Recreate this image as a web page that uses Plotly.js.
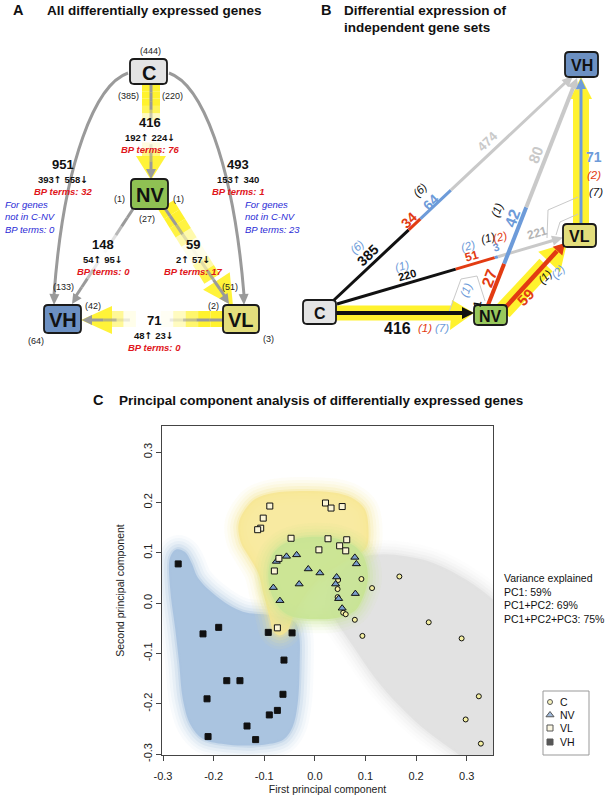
<!DOCTYPE html>
<html><head><meta charset="utf-8">
<script src="https://cdn.plot.ly/plotly-3.0.1.min.js"></script>
<style>body{margin:0;background:#fff}</style>
</head><body><div id="chart" style="width:605px;height:800px"></div>
<script>
// ================= DATA =================
// Panel A: all differentially expressed genes (edges between conditions)
const nodesA = ['C', 'NV', 'VL', 'VH'];
const edgesA = ['C-NV', 'C-VH', 'C-VL', 'NV-VH', 'NV-VL', 'VL-VH'];
const totalA = [416, 951, 493, 148, 59, 71];
const upA = [192, 393, 153, 54, 2, 48];
const downA = [224, 558, 340, 95, 57, 23];
const showDownArrowA = [true, true, false, true, true, true];
const bpTermsA = [76, 32, 1, 0, 17, 0];
const bpNotInCNV = [0, 23];               // C-VH, C-VL
const countLabelsA = ['(444)', '(385)', '(220)', '(1)', '(1)', '(27)', '(133)', '(42)', '(64)', '(51)', '(2)', '(3)'];

// Panel B: independent gene sets, segments of each edge
const segCNV = [416];
const segCVH = [385, 34, 64, 474];
const segCVL = [220, 51, 3, 221];
const segNVVH = [27, 42, 80];
const segNVVL = [59];
const segVLVH = [71];
const parenB = ['(1)', '(7)', '(6)', '(6)', '(1)', '(2)', '(1)', '(2)', '(1)', '(1)', '(2)', '(2)', '(7)', '(1)'];
const smallB = ['1'];

// Panel C: PCA scores
const pcC_x = [0.046, 0.045, 0.045, 0.092, 0.113, 0.167, 0.056, 0.061, 0.079, 0.094, 0.225, 0.290, 0.324, 0.298, 0.328];
const pcC_y = [0.046, 0.028, 0.012, 0.048, 0.030, 0.053, -0.019, -0.022, -0.033, -0.065, -0.038, -0.070, -0.185, -0.231, -0.279];
const pcNV_x = [-0.076, -0.056, -0.036, -0.013, 0.010, -0.031, -0.082, -0.069, 0.043, 0.041, 0.047, 0.054, 0.079, 0.082, 0.080];
const pcNV_y = [0.083, 0.093, 0.096, 0.068, 0.060, 0.038, 0.031, 0.005, 0.052, 0.038, 0.009, -0.010, 0.091, 0.078, 0.019];
const pcVL_x = [-0.089, -0.102, -0.107, -0.113, 0.021, 0.032, 0.054, -0.047, 0.026, 0.063, 0.049, 0.061, 0.008, -0.071, -0.080, -0.074];
const pcVL_y = [0.193, 0.169, 0.149, 0.146, 0.199, 0.189, 0.192, 0.129, 0.128, 0.126, 0.114, 0.104, 0.106, 0.089, 0.064, -0.049];
const pcVH_x = [-0.270, -0.221, -0.190, -0.092, -0.045, -0.061, -0.174, -0.148, -0.213, -0.063, -0.074, -0.090, -0.134, -0.211, -0.117];
const pcVH_y = [0.078, -0.061, -0.048, -0.058, -0.059, -0.113, -0.154, -0.154, -0.190, -0.181, -0.213, -0.222, -0.244, -0.265, -0.271];

// shaded group regions (outline vertices)
const blobC_x = [0.030, 0.045, 0.070, 0.100, 0.135, 0.180, 0.234, 0.300, 0.360, 0.400, 0.400, 0.330, 0.270, 0.210, 0.168, 0.120, 0.076, 0.045];
const blobC_y = [-0.010, 0.050, 0.080, 0.093, 0.097, 0.093, 0.080, 0.046, 0.000, -0.050, -0.330, -0.330, -0.290, -0.245, -0.205, -0.150, -0.086, -0.040];
const blobVH_x = [-0.286, -0.273, -0.257, -0.244, -0.230, -0.188, -0.142, -0.082, -0.040, -0.031, -0.030, -0.034, -0.044, -0.062, -0.100, -0.170, -0.221, -0.246, -0.261, -0.268, -0.276, -0.286];
const blobVH_y = [0.091, 0.107, 0.102, 0.081, 0.049, 0.009, -0.017, -0.024, -0.037, -0.064, -0.120, -0.200, -0.246, -0.271, -0.281, -0.281, -0.270, -0.241, -0.190, -0.120, -0.050, 0.030];
const blobVL_x = [-0.151, -0.141, -0.118, -0.082, -0.030, 0.036, 0.072, 0.098, 0.106, 0.101, 0.070, 0.000, -0.040, -0.055, -0.070, -0.082, -0.089, -0.102, -0.112, -0.132, -0.146];
const blobVL_y = [0.155, 0.181, 0.207, 0.219, 0.223, 0.220, 0.210, 0.188, 0.146, 0.109, 0.090, 0.040, -0.020, -0.056, -0.064, -0.056, -0.030, 0.020, 0.060, 0.095, 0.120];
const blobNV_x = [0.003, 0.045, 0.076, 0.095, 0.105, 0.096, 0.078, 0.045, 0.003, -0.040, -0.064, -0.084, -0.092, -0.084, -0.066, -0.035];
const blobNV_y = [0.132, 0.128, 0.115, 0.095, 0.053, 0.014, -0.016, -0.029, -0.032, -0.028, -0.016, 0.014, 0.053, 0.095, 0.115, 0.128];

const pcTicks = [-0.3, -0.2, -0.1, 0.0, 0.1, 0.2, 0.3];
const pcTickText = ['-0.3', '-0.2', '-0.1', '0.0', '0.1', '0.2', '0.3'];
const varianceLines = ['Variance explained', 'PC1: 59%', 'PC1+PC2: 69%', 'PC1+PC2+PC3: 75%'];
const groups = ['C', 'NV', 'VL', 'VH'];

// ================= DRAWING HELPERS =================
const FONT = 'Liberation Sans, Arial, sans-serif';
const shapes = [], annotations = [];
const XR = 'x2', YR = 'y2';
const f1 = v => (+v).toFixed(2);
function pathStr(pts) { return 'M' + pts.map(p => f1(p[0]) + ',' + f1(p[1])).join(' L') + ' Z'; }
function addPoly(pts, color, op) { shapes.push({type: 'path', xref: XR, yref: YR, path: pathStr(pts), fillcolor: color, line: {width: 0}, opacity: op == null ? 1 : op, layer: 'above'}); }
function addLine(x0, y0, x1, y1, color, w, op) { shapes.push({type: 'line', xref: XR, yref: YR, x0, y0, x1, y1, line: {color, width: w}, opacity: op == null ? 1 : op, layer: 'above'}); }
function addCurve(d, color, w) { shapes.push({type: 'path', xref: XR, yref: YR, path: d, fillcolor: 'rgba(0,0,0,0)', line: {color, width: w}, layer: 'above'}); }
function addHead(tx, ty, fx, fy, len, half, color, op) {
  const dx = tx - fx, dy = ty - fy, L = Math.hypot(dx, dy), ux = dx / L, uy = dy / L, nx = -uy, ny = ux;
  const bx = tx - ux * len, by = ty - uy * len;
  addPoly([[tx, ty], [bx + nx * half, by + ny * half], [bx - nx * half, by - ny * half]], color, op);
}
function gradLine(x0, y0, x1, y1, color, w, ops) {
  const n = ops.length;
  for (let i = 0; i < n; i++) {
    if (ops[i] <= 0) continue;
    const a = i / n, b = (i + 1) / n;
    addLine(x0 + (x1 - x0) * a, y0 + (y1 - y0) * a, x0 + (x1 - x0) * b, y0 + (y1 - y0) * b, color, w, ops[i]);
  }
}
function gradBand(x0, y0, x1, y1, half, color, ops) {
  const dx = x1 - x0, dy = y1 - y0, L = Math.hypot(dx, dy), nx = -dy / L * half, ny = dx / L * half, n = ops.length;
  for (let i = 0; i < n; i++) {
    if (ops[i] <= 0) continue;
    const a = i / n, b = (i + 1) / n;
    const ax = x0 + dx * a, ay = y0 + dy * a, bx = x0 + dx * b, by = y0 + dy * b;
    addPoly([[ax + nx, ay + ny], [bx + nx, by + ny], [bx - nx, by - ny], [ax - nx, ay - ny]], color, ops[i]);
  }
}
function segLine(x0, y0, x1, y1, breaks, colors, widths) {
  for (let i = 0; i < colors.length; i++) {
    const a = breaks[i], b = breaks[i + 1];
    addLine(x0 + (x1 - x0) * a, y0 + (y1 - y0) * a, x0 + (x1 - x0) * b, y0 + (y1 - y0) * b, colors[i], widths[i]);
  }
}
function addText(x, y, txt, size, color, opt) {
  opt = opt || {};
  annotations.push({xref: XR, yref: YR, x, y, text: txt, showarrow: false,
    font: {family: FONT, size, color}, textangle: opt.angle || 0,
    xanchor: opt.xanchor || 'center', yanchor: opt.yanchor || 'middle', align: opt.align || 'center'});
}
function rrect(x0, y0, x1, y1, r) {
  return `M${x0 + r},${y0} L${x1 - r},${y0} Q${x1},${y0} ${x1},${y0 + r} L${x1},${y1 - r} Q${x1},${y1} ${x1 - r},${y1} L${x0 + r},${y1} Q${x0},${y1} ${x0},${y1 - r} L${x0},${y0 + r} Q${x0},${y0} ${x0 + r},${y0} Z`;
}
function addNode(x0, y0, x1, y1, label, fill, size) {
  shapes.push({type: 'path', xref: XR, yref: YR, path: rrect(x0, y0, x1, y1, 4), fillcolor: fill, line: {color: '#1a1a1a', width: 1.8}, layer: 'above'});
  addText((x0 + x1) / 2, (y0 + y1) / 2 + 1, '<b>' + label + '</b>', size, '#111');
}
const UP = '<span style="font-family:DejaVu Sans">\u2191</span>';
const DOWN = '<span style="font-family:DejaVu Sans">\u2193</span>';

const GRAY = '#9a9a9a', YEL = '#fff22e', RED = '#e23b12', BLUE = '#6d9bd9', LGRAY = '#c9c9c9', BLK = '#111';
const RED_T = '#e0161b', BLUE_T = '#2a2ad6';
const nodeFill = {C: '#e4e4e4', NV: '#8fc153', VL: '#e3de7c', VH: '#6c90c2'};

// ================= PANEL A =================
addText(18, 10, '<b>A</b>', 14.5, '#111');
addText(45, 10, '<b>All differentially expressed genes</b>', 13.5, '#111', {xanchor: 'left'});

// yellow bands (behind)
gradBand(151, 84, 151, 157, 9, YEL, [1, 1, 1, 0.8, 0.3, 0, 0, 0, 0.15, 0.6]);
addPoly([[136, 156], [166, 156], [151, 180]], YEL, 0.95);
gradBand(166, 205, 212, 279, 9, YEL, [1, 1, 0.9, 0.4, 0.1, 0.1, 0.4, 0.9]);
addHead(233, 306, 166, 205, 30, 16, YEL, 0.95);
gradBand(223, 319, 111, 319, 8, YEL, [1, 1, 0.7, 0.3, 0.05, 0, 0, 0.1, 0.5]);
addPoly([[112, 306], [112, 334], [81, 320]], YEL, 0.95);

// gray arrows
addCurve('M128,73 C96,84 64,160 54,295', GRAY, 3);
addHead(54, 305, 54.5, 290, 11, 5, GRAY);
addCurve('M169,73 C201,84 233,160 244,295', GRAY, 3);
addHead(244, 305, 243.5, 290, 11, 5, GRAY);
gradLine(151, 84, 151, 170, GRAY, 3, [1, 1, 1, 0.5, 0.1, 0, 0, 0.2, 0.7, 1]);
addHead(151, 179, 151, 160, 10, 5, GRAY);
gradLine(133, 209, 76, 296, GRAY, 3, [1, 1, 0.7, 0.3, 0.05, 0, 0.2, 0.6, 1, 1]);
addHead(72, 304, 133, 209, 10, 5, GRAY);
gradLine(164, 207, 226, 298, GRAY, 3, [1, 1, 0.7, 0.3, 0.05, 0.05, 0.3, 0.8, 1, 1]);
addHead(229, 304, 164, 207, 10, 5, GRAY);
gradLine(223, 320, 90, 320, GRAY, 3, [1, 1, 0.6, 0.2, 0, 0, 0, 0.2, 0.7, 1]);
addHead(82, 320, 223, 320, 10, 5, GRAY);

// nodes
addNode(130, 59, 167, 84, nodesA[0], nodeFill.C, 20);
addNode(131, 179, 168, 209, nodesA[1], nodeFill.NV, 20);
addNode(223, 305, 259, 333, nodesA[2], nodeFill.VL, 20);
addNode(44, 305, 81, 333, nodesA[3], nodeFill.VH, 20);

// edge labels
const posA = {'C-NV': [150, 122], 'C-VH': [63, 164], 'C-VL': [238, 164], 'NV-VH': [103, 244], 'NV-VL': [193, 244], 'VL-VH': [154, 320]};
edgesA.forEach((e, i) => {
  const [x, y] = posA[e];
  addText(x, y, '<b>' + totalA[i] + '</b>', 13, '#111');
  addText(x, y + 15, '<b>' + upA[i] + UP + ' ' + downA[i] + (showDownArrowA[i] ? DOWN : '') + '</b>', 9.5, '#111');
  addText(x, y + 27, '<b><i>BP terms: ' + bpTermsA[i] + '</i></b>', 9.5, RED_T);
});
addText(3, 217, '<i>For genes<br>not in C-NV<br>BP terms: ' + bpNotInCNV[0] + '</i>', 9.5, BLUE_T, {xanchor: 'left', align: 'left'});
addText(243, 217, '<i>For genes<br>not in C-NV<br>BP terms: ' + bpNotInCNV[1] + '</i>', 9.5, BLUE_T, {xanchor: 'left', align: 'left'});
const cntPosA = [[150, 51], [128, 96], [172, 96], [119, 199], [178, 199], [147, 219], [63, 287], [93, 306], [36, 341], [230, 287], [213, 306], [268, 339]];
countLabelsA.forEach((t, i) => addText(cntPosA[i][0], cntPosA[i][1], t, 9, '#222'));

// ================= PANEL B =================
addText(326, 10, '<b>B</b>', 14.5, '#111');
addText(342, 10, '<b>Differential expression of</b>', 13.5, '#111', {xanchor: 'left'});
addText(342, 27, '<b>independent gene sets</b>', 13.5, '#111', {xanchor: 'left'});

// yellow bands
addPoly([[336, 305.5], [452, 305.5], [452, 320.5], [336, 320.5]], YEL, 1);
addPoly([[452, 300], [474, 313], [450, 330]], YEL, 1);
gradBand(503, 311, 546, 265, 9, YEL, [1]);
addHead(567, 243, 503, 311, 26, 15, YEL, 1);
addPoly([[573, 224], [589, 224], [589, 98], [573, 98]], YEL, 1);
addPoly([[570, 99], [592, 99], [581, 77]], YEL, 1);

// thin gray connectors
addCurve('M449,312 L461,279 L477,276 L485,301', LGRAY, 1);
addCurve('M547,238 L548,210 L578,197', LGRAY, 1);
addCurve('M556,235 L560,222 L578,214', LGRAY, 1);

// C -> VH
segLine(333, 301, 566, 82, [0, 0.325, 0.375, 0.506, 1], [BLK, RED, BLUE, LGRAY], [3, 3, 3, 3]);
addHead(573, 76, 333, 301, 11, 5, LGRAY);
// C -> VL
segLine(337, 304, 553, 240.5, [0, 0.55, 0.73, 0.745, 1], [BLK, RED, BLUE, LGRAY], [3, 3, 3, 3]);
addHead(563, 237.5, 337, 304, 11, 5, LGRAY);
// NV -> VH
segLine(488, 305, 573, 88, [0, 0.19, 0.45, 1], [RED, BLUE, LGRAY], [4, 4, 4]);
addHead(577, 78, 488, 305, 11, 6, LGRAY);
// NV -> VL
addLine(505, 308, 557, 251, RED, 4.5);
addHead(565, 243, 505, 308, 11, 6.5, RED);
// C -> NV
addLine(336, 313, 463, 313, BLK, 4);
addHead(474, 313, 336, 313, 12, 6, BLK);
// VL -> VH
addLine(581, 224, 581, 88, BLUE, 3);
addHead(581, 78, 581, 224, 11, 5, BLUE);

// nodes
addNode(303, 300, 336, 324, 'C', nodeFill.C, 16);
addNode(474, 305, 507, 325, 'NV', '#98c85c', 16);
addNode(563, 224, 596, 247, 'VL', nodeFill.VL, 16);
addNode(565, 52, 598, 77, 'VH', nodeFill.VH, 16);

// segment labels
const aCVH = -44, aCVL = -16, aNVVH = -69, aNVVL = -45;
addText(397, 328, '<b>' + segCNV[0] + '</b>', 16, '#111');
addText(368, 255, '<b>' + segCVH[0] + '</b>', 14, '#111', {angle: aCVH});
addText(409, 220, '<b>' + segCVH[1] + '</b>', 14, RED, {angle: aCVH});
addText(431, 202, '<b>' + segCVH[2] + '</b>', 14, BLUE, {angle: aCVH});
addText(487, 141, '<b>' + segCVH[3] + '</b>', 13, LGRAY, {angle: aCVH});
addText(407, 275, '<b>' + segCVL[0] + '</b>', 11, '#111', {angle: aCVL});
addText(472, 256, '<b>' + segCVL[1] + '</b>', 12, RED, {angle: aCVL});
addText(496, 247, '<b>' + segCVL[2] + '</b>', 11, BLUE, {angle: aCVL});
addText(537, 233, '<b>' + segCVL[3] + '</b>', 12, '#b5b5b5', {angle: aCVL});
addText(489, 278, '<b>' + segNVVH[0] + '</b>', 16, RED, {angle: aNVVH});
addText(512, 218, '<b>' + segNVVH[1] + '</b>', 16, BLUE, {angle: aNVVH});
addText(535, 155, '<b>' + segNVVH[2] + '</b>', 15, LGRAY, {angle: aNVVH});
addText(525, 297, '<b>' + segNVVL[0] + '</b>', 15, RED, {angle: aNVVL});
addText(594, 157, '<b>' + segVLVH[0] + '</b>', 14, BLUE);
// parenthetical labels
const parenPos = [[425, 328, RED, 0], [442, 328, BLUE, 0], [357, 247, BLUE, aCVH], [420, 190, '#111', aCVH],
  [402, 266, BLUE, aCVL], [468, 246, BLUE, aCVL], [488, 238, '#111', aCVL], [500, 237, RED, aCVL],
  [497, 210, '#111', aNVVH], [545, 277, '#111', aNVVL], [558, 272, BLUE, aNVVL],
  [594, 175, RED, 0], [596, 192, '#111', 0], [466, 290, BLUE, aNVVH]];
parenB.forEach((t, i) => { const p = parenPos[i]; addText(p[0], p[1], '<i>' + t + '</i>', 11.5, p[2], {angle: p[3]}); });
addText(477, 304, '<b>' + smallB[0] + '</b>', 11, '#111', {angle: -80});

// ================= PANEL C =================
addText(98, 400, '<b>C</b>', 14.5, '#111');
addText(117, 400, '<b>Principal component analysis of differentially expressed genes</b>', 13.5, '#111', {xanchor: 'left'});
addText(502, 598, varianceLines.join('<br>'), 10.5, '#111', {xanchor: 'left', align: 'left'});

// manual legend box (below the legend symbols)
shapes.push({type: 'rect', xref: XR, yref: YR, x0: 543, y0: 691, x1: 589, y1: 755, line: {color: '#999', width: 1}, fillcolor: '#fff', layer: 'below'});
const legY = [702, 715, 728, 742];
groups.forEach((g, i) => addText(558, legY[i], g, 10.5, '#111', {xanchor: 'left'}));

function blobTraces(xs, ys, rgb, alpha) {
  const cx = xs.concat([xs[0]]), cy = ys.concat([ys[0]]);
  const base = {x: cx, y: cy, mode: 'lines', hoverinfo: 'skip', showlegend: false};
  const halo = (w, a) => Object.assign({}, base, {line: {color: `rgba(${rgb},${a})`, width: w, shape: 'spline', smoothing: 1}});
  return [
    halo(28, 0.07), halo(22, 0.09), halo(16, 0.13), halo(10, 0.2),
    Object.assign({}, base, {fill: 'toself', fillcolor: `rgba(${rgb},${alpha})`, line: {color: `rgba(${rgb},0.35)`, width: 4, shape: 'spline', smoothing: 1}})
  ];
}
const traces = [].concat(
  blobTraces(blobC_x, blobC_y, '226,226,226', 1),
  blobTraces(blobVH_x, blobVH_y, '170,196,224', 1),
  blobTraces(blobVL_x, blobVL_y, '247,230,145', 0.85),
  blobTraces(blobNV_x, blobNV_y, '200,228,148', 0.92),
  [
    {x: pcC_x, y: pcC_y, name: 'C', mode: 'markers', marker: {symbol: 'circle', size: 5, color: '#f4efa2', line: {color: '#111', width: 1}}, showlegend: false},
    {x: pcNV_x, y: pcNV_y, name: 'NV', mode: 'markers', marker: {symbol: 'triangle-up', size: 7, color: '#7b9fcc', line: {color: '#111', width: 1}}, showlegend: false},
    {x: pcVL_x, y: pcVL_y, name: 'VL', mode: 'markers', marker: {symbol: 'square', size: 6, color: '#fbf5d6', line: {color: '#111', width: 1}}, showlegend: false},
    {x: pcVH_x, y: pcVH_y, name: 'VH', mode: 'markers', marker: {symbol: 'square', size: 6, color: '#111', line: {color: '#111', width: 1}}, showlegend: false},
    // legend symbols on the overlay layer
    {x: [550, 550, 550, 550], y: legY, xaxis: 'x2', yaxis: 'y2', mode: 'markers', hoverinfo: 'skip', showlegend: false,
     marker: {symbol: ['circle', 'triangle-up', 'square', 'square'], size: [5, 7, 6, 6], color: ['#f4efa2', '#7b9fcc', '#fbf5d6', '#111'], line: {color: '#111', width: 1}}}
  ]
);

const axFont = {family: FONT, size: 11, color: '#222'};
const layout = {
  width: 605, height: 800, margin: {l: 0, r: 0, t: 0, b: 0},
  paper_bgcolor: '#fff', plot_bgcolor: 'rgba(0,0,0,0)', showlegend: false,
  font: {family: FONT},
  xaxis: {domain: [162 / 605, 493 / 605], range: [-0.302, 0.352], tickvals: pcTicks, ticktext: pcTickText,
    ticks: 'outside', ticklen: 5, tickcolor: '#444', showline: true, linecolor: '#444', linewidth: 1, mirror: true,
    showgrid: false, zeroline: false, tickfont: axFont, ticklabelstandoff: 6, fixedrange: true,
    title: {text: 'First principal component', font: {family: FONT, size: 10.5, color: '#222'}, standoff: 4}},
  yaxis: {domain: [45 / 800, 374 / 800], range: [-0.3016, 0.352], tickvals: pcTicks, ticktext: pcTickText,
    ticks: 'outside', ticklen: 5, tickcolor: '#444', showline: true, linecolor: '#444', linewidth: 1, mirror: true,
    showgrid: false, zeroline: false, tickfont: axFont, tickangle: -90, fixedrange: true,
    title: {text: 'Second principal component', font: {family: FONT, size: 10.5, color: '#222'}, standoff: 14}},
  xaxis2: {domain: [0, 1], range: [0, 605], visible: false, anchor: 'y2', fixedrange: true},
  yaxis2: {domain: [0, 1], range: [800, 0], visible: false, anchor: 'x2', fixedrange: true},
  shapes, annotations
};
Plotly.newPlot('chart', traces, layout, {displayModeBar: false, staticPlot: true});
</script></body></html>
